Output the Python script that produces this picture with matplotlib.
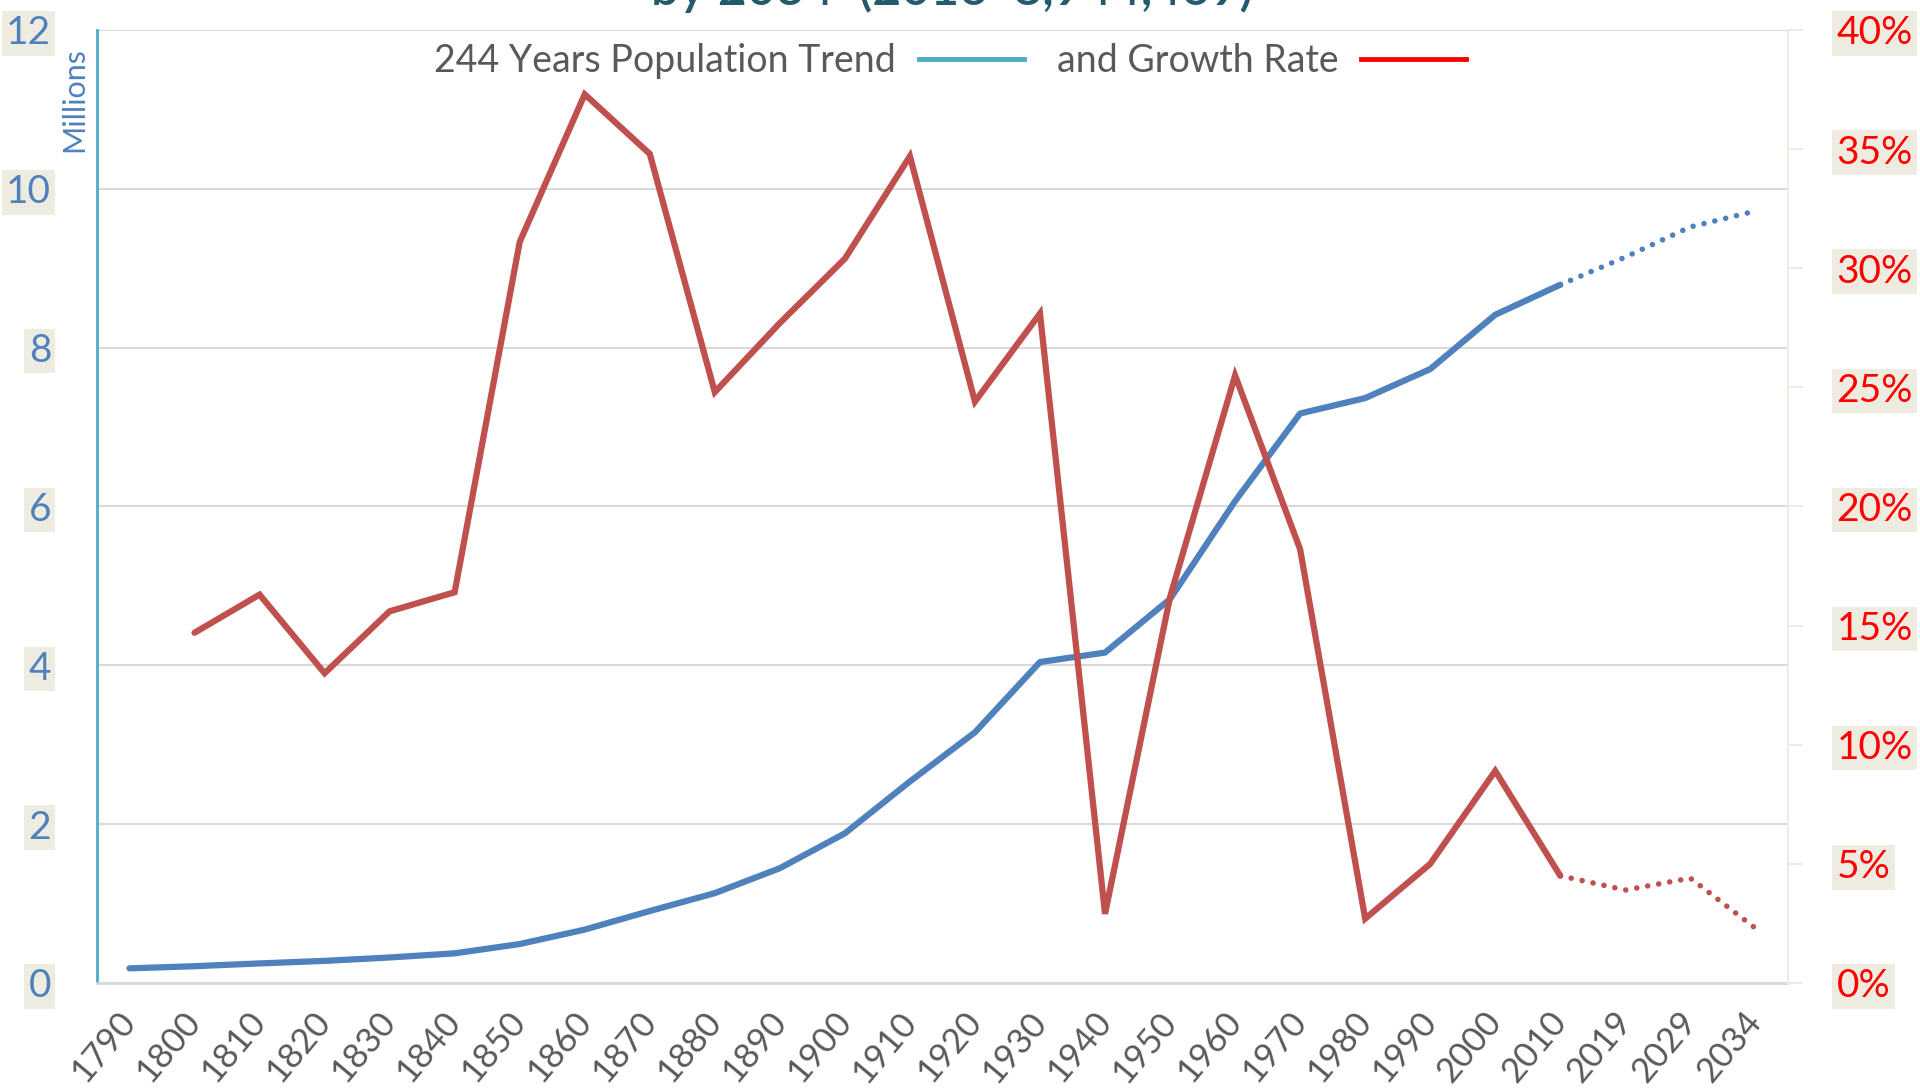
import numpy as np
import matplotlib.pyplot as plt
from matplotlib.lines import Line2D
from matplotlib.ticker import FuncFormatter

plt.rcParams['font.family'] = ['Lato', 'DejaVu Sans']

years = ['1790', '1800', '1810', '1820', '1830', '1840', '1850', '1860', '1870',
         '1880', '1890', '1900', '1910', '1920', '1930', '1940', '1950', '1960',
         '1970', '1980', '1990', '2000', '2010', '2019', '2029', '2034']
population = [0.184, 0.211, 0.246, 0.278, 0.321, 0.373, 0.490, 0.672, 0.906,
              1.131, 1.445, 1.884, 2.537, 3.156, 4.041, 4.160, 4.835, 6.067,
              7.171, 7.365, 7.730, 8.414, 8.792, 9.14, 9.52, 9.72]
growth = [np.nan, 14.7, 16.3, 13.0, 15.6, 16.4, 31.1, 37.3, 34.8,
          24.8, 27.7, 30.4, 34.7, 24.4, 28.1, 2.9, 16.2, 25.5,
          18.2, 2.7, 5.0, 8.9, 4.5, 3.9, 4.4, 2.3]
last_census = years.index('2010')

left_ticks = [0, 2, 4, 6, 8, 10, 12]
right_ticks = [0, 0.05, 0.10, 0.15, 0.20, 0.25, 0.30, 0.35, 0.40]

BLUE = '#4F81BD'
RED = '#C0504D'
BEIGE = '#EEECE1'
GRID = '#D9D9D9'

x = np.arange(len(years))
pop = np.array(population)
gr = np.array(growth) / 100

fig = plt.figure(figsize=(19.2, 10.9), dpi=100)
ax = fig.add_axes([0.0505, 0.0982, 0.8807, 0.8743])
ax2 = ax.twinx()

# population (left axis)
ax.plot(x[:last_census + 1], pop[:last_census + 1], color=BLUE, lw=4.5,
        solid_capstyle='round', solid_joinstyle='round')
ax.plot(x[last_census:], pop[last_census:], color=BLUE, lw=4,
        linestyle=(0, (0.01, 2.0)), dash_capstyle='round')

# growth rate (right axis)
ax2.plot(x[:last_census + 1], gr[:last_census + 1], color=RED, lw=4.5,
         solid_capstyle='round', solid_joinstyle='miter')
ax2.plot(x[last_census:], gr[last_census:], color=RED, lw=4,
         linestyle=(0, (0.01, 2.0)), dash_capstyle='round')

ax.set_xlim(-0.5, len(years) - 0.5)
ax.set_ylim(0, 12)
ax2.set_ylim(0, 0.4)

ax.set_yticks(left_ticks)
ax.set_xticks(x)
ax.set_xticklabels(years, rotation=50, ha='right', va='center',
                   rotation_mode='anchor', fontsize=25, color='#595959')
ax.tick_params(axis='x', length=0, pad=24)
ax.tick_params(axis='y', length=0, pad=33, labelsize=28, labelcolor=BLUE)
for lab in ax.get_yticklabels():
    lab.set_bbox(dict(facecolor=BEIGE, edgecolor='none', pad=3))
ax.grid(axis='y', color=GRID, lw=1.5)
ax.set_axisbelow(True)

ax2.set_yticks(right_ticks)
ax2.yaxis.set_major_formatter(FuncFormatter(lambda v, p: f'{v * 100:.0f}%'))
ax2.tick_params(axis='y', length=11, width=1.5, color=BEIGE, pad=24,
                labelsize=28, labelcolor='#FF0000')
for lab in ax2.get_yticklabels():
    lab.set_bbox(dict(facecolor=BEIGE, edgecolor='none', pad=3))

for a in (ax, ax2):
    for side in ('top', 'left', 'right', 'bottom'):
        a.spines[side].set_visible(False)
ax.spines['left'].set_visible(True)
ax.spines['left'].set_color('#4BACC6')
ax.spines['left'].set_linewidth(2)
ax.spines['bottom'].set_visible(True)
ax.spines['bottom'].set_color(GRID)
ax.spines['bottom'].set_linewidth(2)
ax2.spines['right'].set_visible(True)
ax2.spines['right'].set_color(BEIGE)
ax2.spines['right'].set_linewidth(1.5)

fig.text(74 / 1920, 1 - 100 / 1090, 'Millions', rotation=90, ha='center',
         va='center', fontsize=22, color=BLUE)

fig.text(0.496, 1 - 5 / 1090, 'by 2034  (2016  8,944,469)', ha='center',
         va='baseline', fontsize=36, fontweight='semibold', color='#245B6B')

handles = [Line2D([], [], color='#4BACC6', lw=3.5),
           Line2D([], [], color='#FF0000', lw=3.5)]
ax.legend(handles, ['244 Years Population Trend', 'and Growth Rate'],
          ncol=2, markerfirst=False, frameon=False, fontsize=27,
          labelcolor='#595959', handlelength=2.8, handletextpad=0.6,
          columnspacing=0.9, loc='center',
          bbox_to_anchor=(0.495, 1 - 61 / 1090), bbox_transform=fig.transFigure)

fig.savefig('out.png', dpi=100)
